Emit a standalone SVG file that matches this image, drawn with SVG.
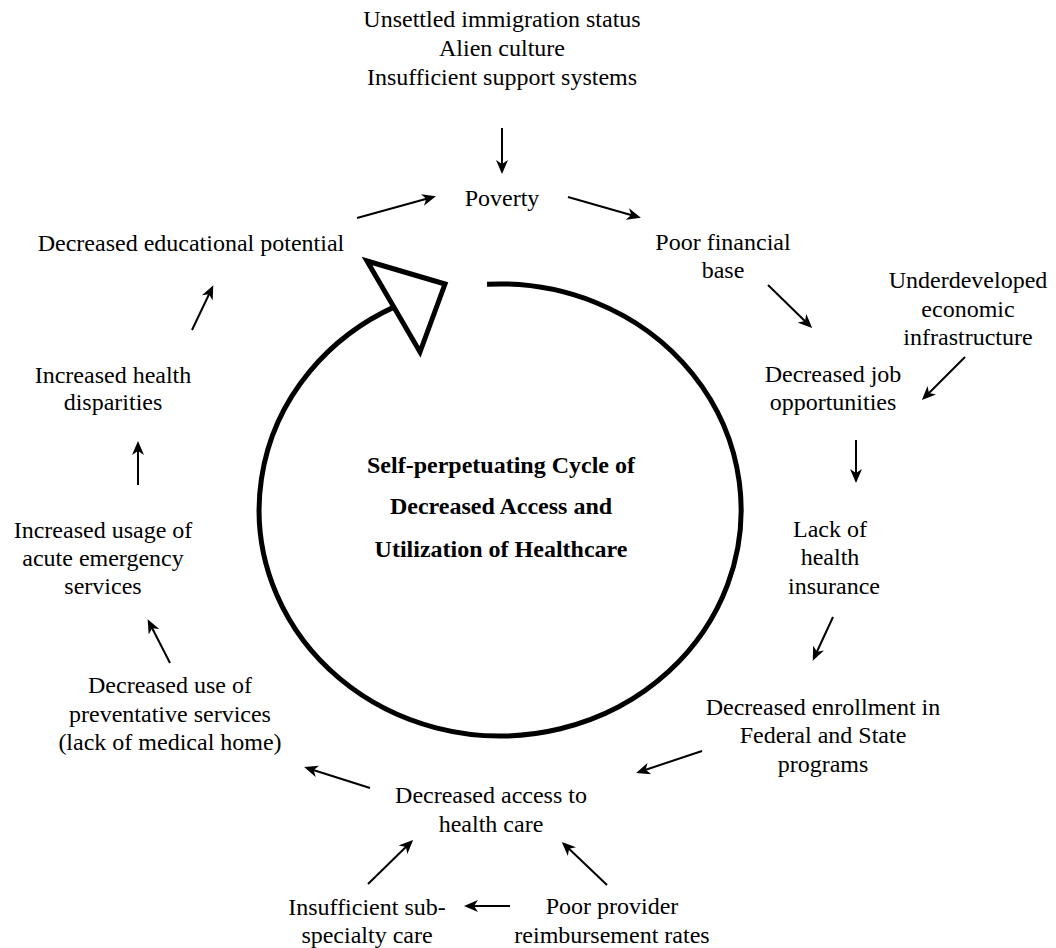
<svg xmlns="http://www.w3.org/2000/svg" width="1056" height="948" viewBox="0 0 1056 948">
<style>
.c{stroke:#000;stroke-width:2;fill:none;marker-end:url(#ah)}
</style>
<defs>
<marker id="ah" viewBox="0 0 14 12" refX="11" refY="6" markerWidth="14" markerHeight="12" markerUnits="userSpaceOnUse" orient="auto">
<path d="M0,0 L14,6 L0,12 L4,6 z" fill="#000"/>
</marker>
</defs>
<rect width="1056" height="948" fill="#fff"/>
<g id="cycle">
<path d="M487,284.3 A241,226 0 1 1 395,306.6" fill="none" stroke="#000" stroke-width="5"/>
<polygon points="367,261 445,284 420,352" fill="#fff" stroke="#000" stroke-width="5" stroke-linejoin="miter"/>
</g>
<g id="center"><text font-family="Liberation Serif" font-size="24" font-weight="bold" text-anchor="middle" x="501" y="473">Self-perpetuating Cycle of</text><text font-family="Liberation Serif" font-size="24" font-weight="bold" text-anchor="middle" x="501" y="514">Decreased Access and</text><text font-family="Liberation Serif" font-size="24" font-weight="bold" text-anchor="middle" x="501" y="557">Utilization of Healthcare</text></g>
<g id="causes"><text font-family="Liberation Serif" font-size="24" text-anchor="middle" x="502" y="27">Unsettled immigration status</text><text font-family="Liberation Serif" font-size="24" text-anchor="middle" x="502" y="56">Alien culture</text><text font-family="Liberation Serif" font-size="24" text-anchor="middle" x="502" y="85">Insufficient support systems</text></g>
<g id="poverty"><text font-family="Liberation Serif" font-size="24" text-anchor="middle" x="502" y="206">Poverty</text></g>
<g id="finance"><text font-family="Liberation Serif" font-size="24" text-anchor="middle" x="723" y="250">Poor financial</text><text font-family="Liberation Serif" font-size="24" text-anchor="middle" x="723" y="278">base</text></g>
<g id="infra"><text font-family="Liberation Serif" font-size="24" text-anchor="middle" x="968" y="288">Underdeveloped</text><text font-family="Liberation Serif" font-size="24" text-anchor="middle" x="968" y="317">economic</text><text font-family="Liberation Serif" font-size="24" text-anchor="middle" x="968" y="345">infrastructure</text></g>
<g id="jobs"><text font-family="Liberation Serif" font-size="24" text-anchor="middle" x="833" y="382">Decreased job</text><text font-family="Liberation Serif" font-size="24" text-anchor="middle" x="833" y="410">opportunities</text></g>
<g id="insurance"><text font-family="Liberation Serif" font-size="24" text-anchor="middle" x="830" y="537">Lack of</text><text font-family="Liberation Serif" font-size="24" text-anchor="middle" x="830" y="565">health</text><text font-family="Liberation Serif" font-size="24" text-anchor="middle" x="834" y="594">insurance</text></g>
<g id="enrollment"><text font-family="Liberation Serif" font-size="24" text-anchor="middle" x="823" y="715">Decreased enrollment in</text><text font-family="Liberation Serif" font-size="24" text-anchor="middle" x="823" y="743">Federal and State</text><text font-family="Liberation Serif" font-size="24" text-anchor="middle" x="823" y="772">programs</text></g>
<g id="access"><text font-family="Liberation Serif" font-size="24" text-anchor="middle" x="491" y="803">Decreased access to</text><text font-family="Liberation Serif" font-size="24" text-anchor="middle" x="491" y="832">health care</text></g>
<g id="subspecialty"><text font-family="Liberation Serif" font-size="24" text-anchor="middle" x="367" y="915">Insufficient sub-</text><text font-family="Liberation Serif" font-size="24" text-anchor="middle" x="367" y="943">specialty care</text></g>
<g id="reimbursement"><text font-family="Liberation Serif" font-size="24" text-anchor="middle" x="612" y="914">Poor provider</text><text font-family="Liberation Serif" font-size="24" text-anchor="middle" x="612" y="943">reimbursement rates</text></g>
<g id="preventative"><text font-family="Liberation Serif" font-size="24" text-anchor="middle" x="170" y="693">Decreased use of</text><text font-family="Liberation Serif" font-size="24" text-anchor="middle" x="170" y="722">preventative services</text><text font-family="Liberation Serif" font-size="24" text-anchor="middle" x="170" y="750">(lack of medical home)</text></g>
<g id="emergency"><text font-family="Liberation Serif" font-size="24" text-anchor="middle" x="103" y="538">Increased usage of</text><text font-family="Liberation Serif" font-size="24" text-anchor="middle" x="103" y="566">acute emergency</text><text font-family="Liberation Serif" font-size="24" text-anchor="middle" x="103" y="594">services</text></g>
<g id="disparities"><text font-family="Liberation Serif" font-size="24" text-anchor="middle" x="113" y="383">Increased health</text><text font-family="Liberation Serif" font-size="24" text-anchor="middle" x="113" y="410">disparities</text></g>
<g id="education"><text font-family="Liberation Serif" font-size="24" text-anchor="middle" x="191" y="251">Decreased educational potential</text></g>
<g id="connectors">
<line class="c" x1="502" y1="128" x2="502" y2="171"/>
<line class="c" x1="357" y1="218" x2="433" y2="197"/>
<line class="c" x1="568" y1="197" x2="638" y2="217"/>
<line class="c" x1="768" y1="285" x2="810" y2="326"/>
<line class="c" x1="965" y1="357" x2="924" y2="398"/>
<line class="c" x1="856" y1="440" x2="856" y2="480"/>
<line class="c" x1="833" y1="617" x2="814" y2="658"/>
<line class="c" x1="702" y1="751" x2="639" y2="772"/>
<line class="c" x1="370" y1="788" x2="307" y2="768"/>
<line class="c" x1="368" y1="884" x2="411" y2="842"/>
<line class="c" x1="607" y1="885" x2="564" y2="844"/>
<line class="c" x1="510" y1="906" x2="467" y2="906"/>
<line class="c" x1="170" y1="663" x2="149" y2="622"/>
<line class="c" x1="138" y1="485" x2="138" y2="444"/>
<line class="c" x1="192" y1="330" x2="212" y2="288"/>
</g>
</svg>
